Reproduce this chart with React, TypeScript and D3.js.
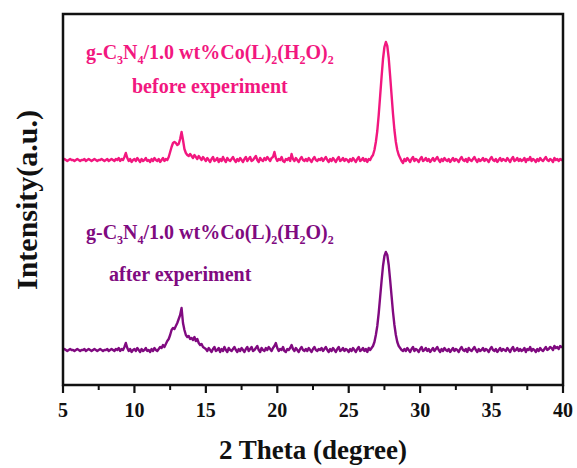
import React from "react";
import * as d3 from "d3";

// 2θ sampled every 0.1 degree from 5 to 40
const twoTheta: number[] = d3.range(351).map((i) => +(5 + i * 0.1).toFixed(1));

// intensity (a.u.), before experiment (curve stacked on top)
const before: number[] = [
  225, 226, 225, 224, 225, 226, 225, 225, 224, 225,
  226, 225, 224, 225, 225, 226, 224, 225, 226, 225,
  224, 225, 226, 225, 224, 225, 225, 226, 225, 224,
  225, 226, 224, 225, 226, 225, 224, 226, 225, 227,
  224, 226, 225, 228, 232, 227, 224, 226, 223, 225,
  226, 224, 227, 225, 223, 226, 224, 225, 227, 224,
  225, 223, 226, 224, 227, 225, 224, 226, 223, 225,
  227, 224, 226, 225, 228, 233, 238, 242, 243, 242,
  240, 241, 246, 253, 245, 236, 232, 230, 229, 231,
  229, 227, 230, 228, 226, 229, 227, 225, 228, 226,
  224, 227, 225, 223, 226, 228, 224, 225, 227, 223,
  226, 224, 228, 225, 223, 227, 225, 224, 226, 228,
  225, 223, 226, 224, 227, 225, 223, 226, 228, 224,
  226, 228, 224, 225, 227, 229, 225, 223, 227, 225,
  224, 227, 225, 228, 226, 224, 227, 228, 233, 227,
  224, 226, 225, 228, 224, 223, 226, 225, 227, 224,
  231, 226, 224, 227, 225, 223, 226, 228, 225, 224,
  226, 224, 227, 225, 223, 226, 228, 225, 224, 226,
  225, 227, 224, 226, 228, 225, 223, 226, 224, 227,
  225, 223, 226, 228, 224, 225, 227, 224, 226, 225,
  223, 226, 224, 227, 225, 223, 226, 228, 224, 225,
  227, 224, 226, 223, 226, 225, 228, 230, 235, 243,
  254, 270, 289, 308, 326, 338, 343, 339, 327, 309,
  290, 271, 255, 243, 235, 230, 227, 224, 222, 226,
  224, 227, 225, 223, 226, 228, 224, 226, 225, 223,
  226, 228, 224, 225, 227, 224, 226, 223, 225, 227,
  224, 226, 228, 225, 223, 226, 224, 227, 225, 224,
  226, 223, 225, 227, 224, 226, 225, 223, 226, 228,
  225, 224, 226, 223, 227, 225, 224, 226, 228, 225,
  223, 226, 224, 225, 227, 224, 226, 225, 223, 226,
  228, 225, 224, 226, 223, 225, 227, 224, 226, 225,
  224, 227, 225, 223, 226, 228, 224, 225, 227, 224,
  226, 224, 225, 227, 223, 226, 225, 228, 224, 226,
  225, 223, 226, 224, 227, 225, 224, 226, 228, 225,
  224, 226, 225, 223, 227, 225, 226, 224, 226, 225,
  226,
];

// intensity (a.u.), after experiment
const after: number[] = [
  35, 36, 35, 34, 35, 36, 35, 35, 34, 35,
  36, 35, 34, 35, 35, 36, 34, 35, 36, 35,
  34, 35, 36, 35, 34, 35, 36, 35, 34, 35,
  35, 36, 34, 35, 36, 35, 34, 36, 35, 37,
  34, 36, 35, 38, 42, 37, 34, 36, 33, 35,
  36, 34, 37, 35, 33, 36, 34, 35, 37, 34,
  35, 33, 36, 34, 37, 35, 34, 36, 38, 37,
  40, 38, 41, 44, 46, 50, 55, 57, 56, 59,
  62, 66, 70, 77, 62, 55, 50, 48, 49, 46,
  47, 45, 48, 44, 46, 42, 40, 41, 38, 37,
  36, 34, 37, 35, 33, 36, 38, 34, 35, 37,
  33, 36, 34, 38, 35, 33, 37, 35, 34, 36,
  38, 35, 33, 36, 34, 37, 35, 33, 36, 38,
  34, 36, 38, 34, 35, 37, 39, 35, 33, 37,
  35, 34, 37, 35, 38, 36, 34, 37, 39, 42,
  37, 34, 36, 35, 38, 34, 33, 36, 35, 37,
  40, 36, 34, 37, 35, 33, 36, 38, 35, 34,
  36, 34, 37, 35, 33, 36, 38, 35, 34, 36,
  35, 37, 34, 36, 38, 35, 33, 36, 34, 37,
  35, 33, 36, 38, 34, 35, 37, 34, 36, 35,
  33, 36, 34, 37, 35, 33, 36, 38, 34, 35,
  37, 34, 36, 33, 37, 35, 37, 39, 43, 50,
  59, 72, 88, 104, 119, 129, 133, 130, 120, 105,
  89, 73, 60, 50, 43, 39, 37, 35, 34, 36,
  34, 37, 35, 33, 36, 38, 34, 36, 35, 33,
  36, 38, 34, 35, 37, 34, 36, 33, 35, 37,
  34, 36, 38, 35, 33, 36, 34, 37, 35, 34,
  36, 33, 35, 37, 34, 36, 35, 33, 36, 38,
  35, 34, 36, 33, 37, 35, 34, 36, 38, 35,
  33, 36, 34, 35, 37, 34, 36, 35, 33, 36,
  38, 35, 34, 36, 33, 35, 37, 34, 36, 35,
  34, 37, 35, 33, 36, 38, 34, 35, 37, 34,
  36, 34, 35, 37, 33, 36, 35, 38, 34, 36,
  35, 33, 36, 34, 37, 35, 34, 36, 38, 35,
  36, 38, 37, 35, 39, 37, 38, 36, 39, 38,
  38,
];

const majorTicks = [5, 10, 15, 20, 25, 30, 35, 40];
const minorTicks = [7.5, 12.5, 17.5, 22.5, 27.5, 32.5, 37.5];

const PINK = "#f2177f";
const PURPLE = "#800a80";
const FONT = "'Liberation Serif', 'Times New Roman', serif";

const margin = { left: 63, top: 14, right: 14, bottom: 83 };
const W = 577;
const H = 468;

// label with subscripts: g-C3N4/1.0 wt%Co(L)2(H2O)2
function Formula({ x, y, fill }: { x: number; y: number; fill: string }) {
  return (
    <text x={x} y={y} fill={fill} fontFamily={FONT} fontWeight="bold" fontSize={20}>
      g-C<tspan dy={5} fontSize={12}>3</tspan>
      <tspan dy={-5}>N</tspan>
      <tspan dy={5} fontSize={12}>4</tspan>
      <tspan dy={-5}>/1.0 wt%Co(L)</tspan>
      <tspan dy={5} fontSize={12}>2</tspan>
      <tspan dy={-5}>(H</tspan>
      <tspan dy={5} fontSize={12}>2</tspan>
      <tspan dy={-5}>O)</tspan>
      <tspan dy={5} fontSize={12}>2</tspan>
    </text>
  );
}

export default function App() {
  const x = d3
    .scaleLinear()
    .domain([5, 40])
    .range([margin.left, W - margin.right]);
  const y = d3
    .scaleLinear()
    .domain([0, 371])
    .range([H - margin.bottom, margin.top]);

  const line = d3
    .line<number>()
    .x((_, i) => x(twoTheta[i]))
    .y((d) => y(d));

  const [x0, x1] = x.range();
  const [yb, yt] = y.range();

  return (
    <svg
      width={W}
      height={H}
      style={{ position: "absolute", left: 0, top: 0, background: "#fff" }}
    >
      <path d={line(before) || ""} fill="none" stroke={PINK} strokeWidth={2.4} strokeLinejoin="round" />
      <path d={line(after) || ""} fill="none" stroke={PURPLE} strokeWidth={2.4} strokeLinejoin="round" />

      <rect x={x0} y={yt} width={x1 - x0} height={yb - yt} fill="none" stroke="#111" strokeWidth={2.5} />

      {majorTicks.map((t) => (
        <g key={t}>
          <line x1={x(t)} x2={x(t)} y1={yb} y2={yb + 8} stroke="#111" strokeWidth={2.2} />
          <text
            x={x(t)}
            y={417}
            textAnchor="middle"
            fontFamily={FONT}
            fontWeight="bold"
            fontSize={20}
            fill="#111"
          >
            {t}
          </text>
        </g>
      ))}
      {minorTicks.map((t) => (
        <line key={t} x1={x(t)} x2={x(t)} y1={yb} y2={yb + 5} stroke="#111" strokeWidth={2} />
      ))}

      <text
        x={(x0 + x1) / 2}
        y={459}
        textAnchor="middle"
        fontFamily={FONT}
        fontWeight="bold"
        fontSize={27}
        fill="#111"
      >
        2 Theta (degree)
      </text>
      <text
        transform="translate(37, 200) rotate(-90)"
        textAnchor="middle"
        fontFamily={FONT}
        fontWeight="bold"
        fontSize={30}
        fill="#111"
      >
        Intensity(a.u.)
      </text>

      <Formula x={86} y={59} fill={PINK} />
      <text x={132} y={93} fill={PINK} fontFamily={FONT} fontWeight="bold" fontSize={20}>
        before experiment
      </text>

      <Formula x={86} y={239} fill={PURPLE} />
      <text x={109} y={281} fill={PURPLE} fontFamily={FONT} fontWeight="bold" fontSize={20}>
        after experiment
      </text>
    </svg>
  );
}
